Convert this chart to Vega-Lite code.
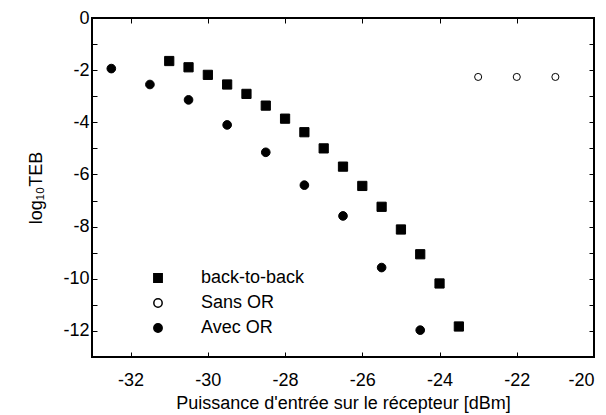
{
  "$schema": "https://vega.github.io/schema/vega-lite/v6.json",
  "width": 502,
  "height": 339,
  "autosize": "none",
  "padding": {"left": 92, "top": 18, "right": 12, "bottom": 58},
  "background": "white",
  "config": {
    "view": {"stroke": "black", "strokeWidth": 2},
    "font": "Liberation Sans",
    "axis": {
      "domain": false,
      "grid": false,
      "tickColor": "black",
      "tickSize": -5,
      "tickWidth": 1,
      "labelFont": "Liberation Sans",
      "labelFontSize": 18,
      "labelColor": "black",
      "titleFont": "Liberation Sans",
      "titleFontSize": 18,
      "titleFontWeight": "normal",
      "titleColor": "black"
    }
  },
  "data": {
    "values": [
      {"serie": "back-to-back", "x": -31.0, "y": -1.65},
      {"serie": "back-to-back", "x": -30.5, "y": -1.89},
      {"serie": "back-to-back", "x": -30.0, "y": -2.18},
      {"serie": "back-to-back", "x": -29.5, "y": -2.55},
      {"serie": "back-to-back", "x": -29.0, "y": -2.91},
      {"serie": "back-to-back", "x": -28.5, "y": -3.36},
      {"serie": "back-to-back", "x": -28.0, "y": -3.86},
      {"serie": "back-to-back", "x": -27.5, "y": -4.38},
      {"serie": "back-to-back", "x": -27.0, "y": -5.0},
      {"serie": "back-to-back", "x": -26.5, "y": -5.70},
      {"serie": "back-to-back", "x": -26.0, "y": -6.44},
      {"serie": "back-to-back", "x": -25.5, "y": -7.24},
      {"serie": "back-to-back", "x": -25.0, "y": -8.11},
      {"serie": "back-to-back", "x": -24.5, "y": -9.06},
      {"serie": "back-to-back", "x": -24.0, "y": -10.18},
      {"serie": "back-to-back", "x": -23.5, "y": -11.83},
      {"serie": "Sans OR", "x": -23.0, "y": -2.26},
      {"serie": "Sans OR", "x": -22.0, "y": -2.26},
      {"serie": "Sans OR", "x": -21.0, "y": -2.26},
      {"serie": "Avec OR", "x": -32.5, "y": -1.94},
      {"serie": "Avec OR", "x": -31.5, "y": -2.55},
      {"serie": "Avec OR", "x": -30.5, "y": -3.14},
      {"serie": "Avec OR", "x": -29.5, "y": -4.1},
      {"serie": "Avec OR", "x": -28.5, "y": -5.15},
      {"serie": "Avec OR", "x": -27.5, "y": -6.41},
      {"serie": "Avec OR", "x": -26.5, "y": -7.59},
      {"serie": "Avec OR", "x": -25.5, "y": -9.57},
      {"serie": "Avec OR", "x": -24.5, "y": -11.97}
    ]
  },
  "layer": [
    {
      "mark": {"type": "point", "filled": true, "stroke": "black", "strokeWidth": 1, "opacity": 1},
      "encoding": {
        "x": {
          "field": "x", "type": "quantitative",
          "scale": {"domain": [-33, -20], "nice": false, "zero": false},
          "axis": {
            "orient": "bottom",
            "values": [-32, -30, -28, -26, -24, -22, -20],
            "labelExpr": "'' + datum.value",
            "labelPadding": 19,
            "title": "Puissance d'entrée sur le récepteur [dBm]",
            "titlePadding": 5
          }
        },
        "y": {
          "field": "y", "type": "quantitative",
          "scale": {"domain": [-13, 0], "nice": false, "zero": false},
          "axis": {
            "orient": "left",
            "values": [0, -1, -2, -3, -4, -5, -6, -7, -8, -9, -10, -11, -12],
            "labelExpr": "datum.value % 2 == 0 ? '' + datum.value : ''",
            "labelPadding": 8,
            "title": "log₁₀TEB",
            "titlePadding": 17
          }
        },
        "shape": {
          "field": "serie", "type": "nominal",
          "scale": {"domain": ["back-to-back", "Sans OR", "Avec OR"], "range": ["square", "circle", "circle"]},
          "legend": {
            "orient": "none",
            "legendX": 57,
            "legendY": 251,
            "title": null,
            "labelFont": "Liberation Sans",
            "labelFontSize": 18,
            "labelColor": "black",
            "labelOffset": 34,
            "rowPadding": 7,
            "padding": 0,
            "symbolSize": 70,
            "encode": {"symbols": {"update": {"stroke": {"value": "black"}, "strokeWidth": {"value": 1}}}}
          }
        },
        "fill": {
          "field": "serie", "type": "nominal",
          "scale": {"domain": ["back-to-back", "Sans OR", "Avec OR"], "range": ["black", "white", "black"]},
          "legend": {
            "orient": "none",
            "legendX": 57,
            "legendY": 251,
            "title": null,
            "labelFont": "Liberation Sans",
            "labelFontSize": 18,
            "labelColor": "black",
            "labelOffset": 34,
            "rowPadding": 7,
            "padding": 0,
            "symbolSize": 70,
            "encode": {"symbols": {"update": {"stroke": {"value": "black"}, "strokeWidth": {"value": 1}}}}
          }
        },
        "size": {
          "condition": [
            {"test": "datum.serie == 'Sans OR'", "value": 50},
            {"test": "datum.serie == 'Avec OR'", "value": 75}
          ],
          "value": 85
        }
      }
    },
    {
      "mark": {"type": "point", "opacity": 0},
      "encoding": {
        "x": {
          "field": "x", "type": "quantitative",
          "scale": {"domain": [-33, -20], "nice": false, "zero": false},
          "axis": {"orient": "top", "values": [-32, -30, -28, -26, -24, -22], "labels": false, "title": null}
        },
        "y": {
          "field": "y", "type": "quantitative",
          "scale": {"domain": [-13, 0], "nice": false, "zero": false},
          "axis": {"orient": "right", "values": [-1, -2, -3, -4, -5, -6, -7, -8, -9, -10, -11, -12], "labels": false, "title": null}
        }
      }
    }
  ],
  "resolve": {"axis": {"x": "independent", "y": "independent"}}
}
